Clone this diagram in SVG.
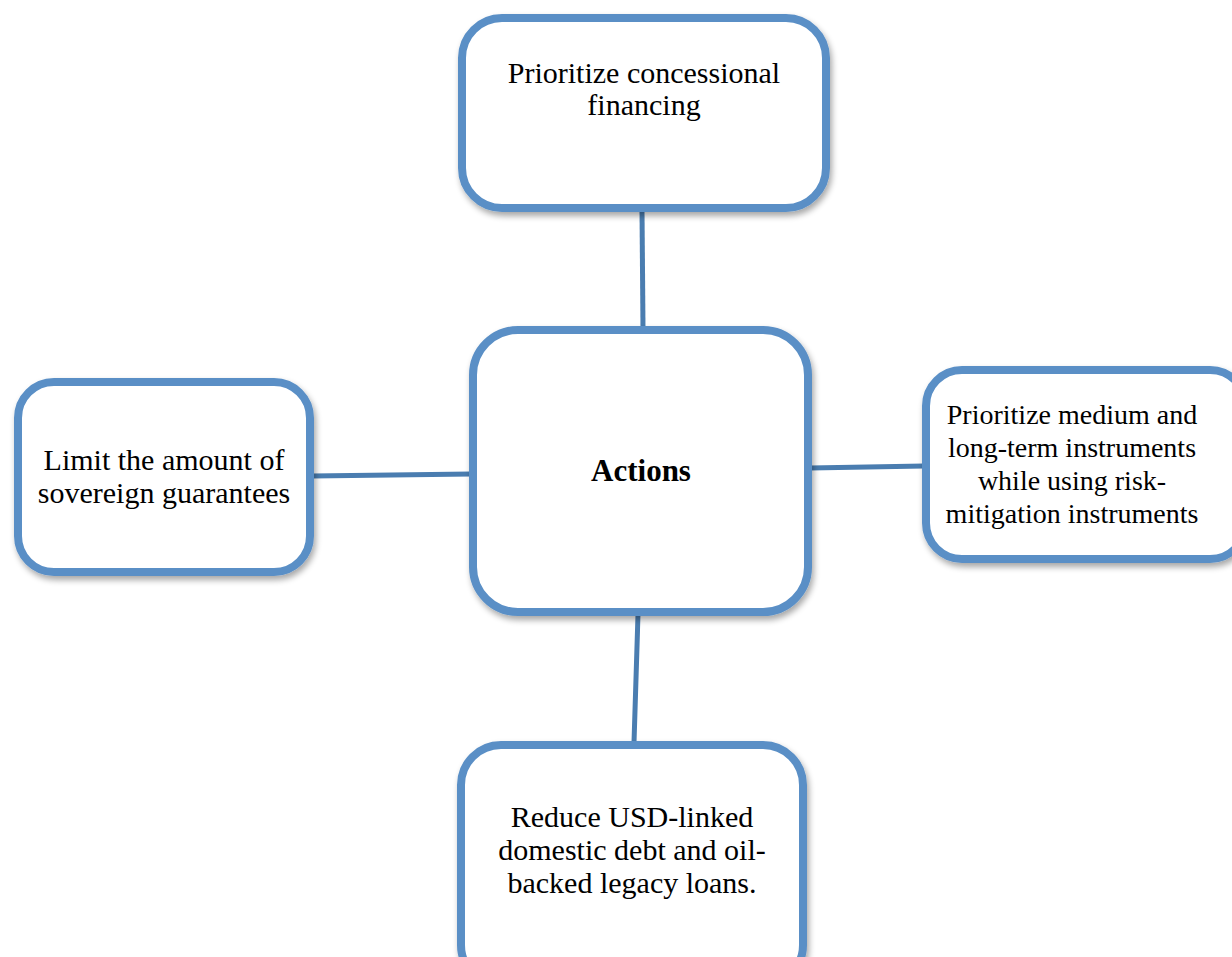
<svg xmlns="http://www.w3.org/2000/svg" width="1232" height="957" viewBox="0 0 1232 957">
<defs>
<filter id="sh" x="-10%" y="-10%" width="130%" height="130%">
<feGaussianBlur in="SourceAlpha" stdDeviation="3"/>
<feOffset dx="2" dy="4" result="b"/>
<feComponentTransfer><feFuncA type="linear" slope="0.35"/></feComponentTransfer>
<feMerge><feMergeNode/><feMergeNode in="SourceGraphic"/></feMerge>
</filter>
</defs>
<style>
.box{fill:#fff;stroke:#5A8FC6;stroke-width:8;filter:url(#sh)}
.t{font-family:"Liberation Serif","DejaVu Serif",serif;font-size:30px;fill:#000;text-anchor:middle}
.s{font-size:28px}
.b{font-weight:bold;font-size:31px}
.c{stroke:#4A7DB0;stroke-width:5;fill:none}
</style>
<rect width="1232" height="957" fill="#fff"/>
<g id="connectors">
<line class="c" x1="642" y1="211" x2="643" y2="328"/>
<line class="c" x1="312" y1="476" x2="471" y2="474"/>
<line class="c" x1="810" y1="468" x2="924" y2="466"/>
<line class="c" x1="638" y1="614" x2="634" y2="743"/>
</g>
<g id="top">
<rect class="box" x="462" y="18" width="364" height="190" rx="40"/>
<text class="t" x="644" y="83">Prioritize concessional</text>
<text class="t" x="644" y="115">financing</text>
</g>
<g id="center">
<rect class="box" x="473" y="330" width="335" height="282" rx="45"/>
<text class="t b" x="641" y="481">Actions</text>
</g>
<g id="left">
<rect class="box" x="18" y="382" width="292" height="190" rx="36"/>
<text class="t" x="164" y="470">Limit the amount of</text>
<text class="t" x="164" y="503">sovereign guarantees</text>
</g>
<g id="right">
<rect class="box" x="926" y="370" width="320" height="189" rx="36"/>
<text class="t s" x="1072" y="424">Prioritize medium and</text>
<text class="t s" x="1072" y="457">long-term instruments</text>
<text class="t s" x="1072" y="490">while using risk-</text>
<text class="t s" x="1072" y="523">mitigation instruments</text>
</g>
<g id="bottom">
<rect class="box" x="461" y="745" width="342" height="240" rx="40"/>
<text class="t" x="632" y="827">Reduce USD-linked</text>
<text class="t" x="632" y="860">domestic debt and oil-</text>
<text class="t" x="632" y="893">backed legacy loans.</text>
</g>
</svg>
